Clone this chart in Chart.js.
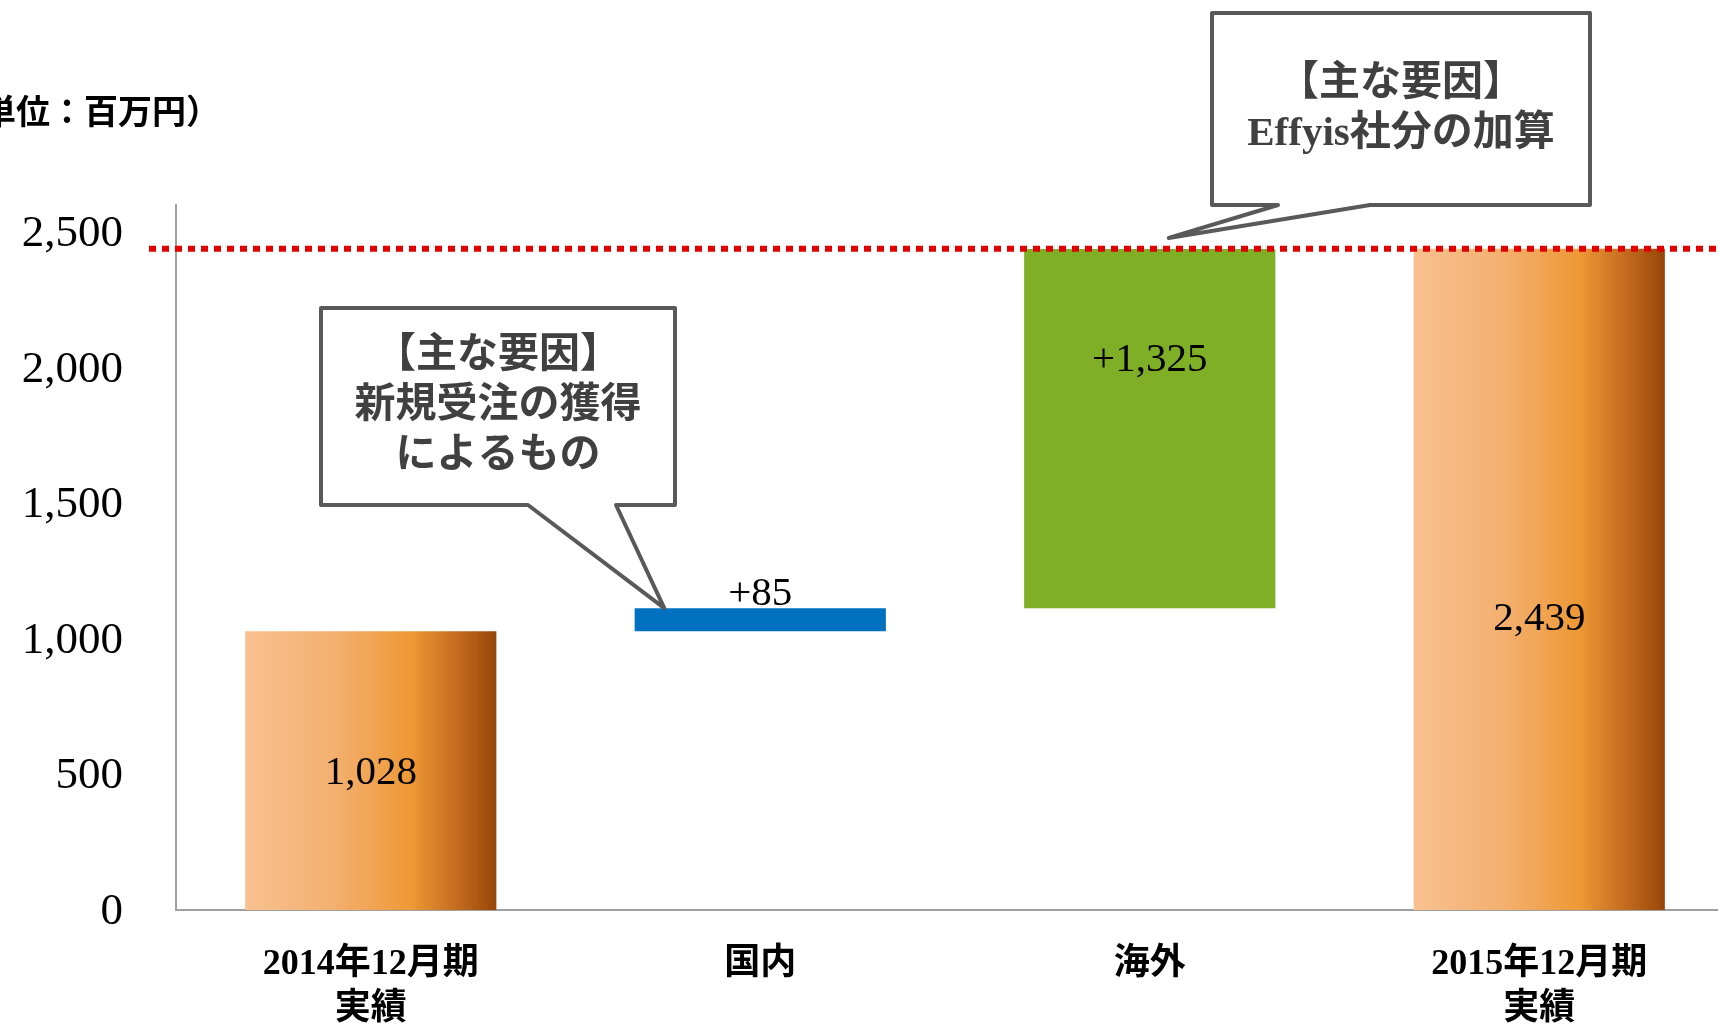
<!DOCTYPE html>
<html lang="ja">
<head>
<meta charset="utf-8">
<title>営業利益 増減要因</title>
<script src="https://cdn.jsdelivr.net/npm/chart.js@4.4.1/dist/chart.umd.min.js"></script>
<style>
  html, body { margin: 0; padding: 0; background: #fff; overflow: hidden; }
  #wrap { position: relative; width: 1734px; height: 1024px; }
</style>
</head>
<body>
<div id="wrap"><canvas id="myChart"></canvas></div>
<script>
let categories = [['2014年12月期', '実績'], '国内', '海外', ['2015年12月期', '実績']]
let amounts = [1028, 85, 1325, 2439]
let kinds = ['total', 'delta', 'delta', 'total']
let yTicks = [0, 500, 1000, 1500, 2000, 2500]
let unitLabel = '（単位：百万円）'

let serif = '"Liberation Serif", "Noto Sans CJK JP", serif'
let barShare = 0.645

// waterfall: totals start at zero, deltas float on the running sum
let running = 0
let ranges = amounts.map((v, i) => {
    if (kinds[i] === 'total') {
        running = v
        return [0, v]
    }
    let r = [running, running + v]
    running += v
    return r
})
let labelTexts = amounts.map((v, i) => (kinds[i] === 'delta' ? '+' : '') + v.toLocaleString('en-US'))
let lastTotal = amounts[amounts.length - 1]

function orangeFill(context) {
    let chart = context.chart
    let xs = chart.scales.x
    if (!chart.chartArea || !xs) return '#EE9836'
    let cx = xs.getPixelForValue(context.dataIndex)
    let w = xs.width / categories.length * barShare
    if (!Number.isFinite(cx) || !Number.isFinite(w) || w <= 0) return '#EE9836'
    let x0 = cx - w / 2
    let g = chart.ctx.createLinearGradient(x0, 0, x0 + w, 0)
    g.addColorStop(0, '#F9C190')
    g.addColorStop(0.35, '#F3B070')
    g.addColorStop(0.66, '#EE9836')
    g.addColorStop(0.84, '#C46C20')
    g.addColorStop(1, '#974508')
    return g
}

let barFill = (context) => {
    let i = context.dataIndex
    if (kinds[i] === 'total') return orangeFill(context)
    return i === 1 ? '#0070C0' : '#7FAE27'
}

let waterfallExtras = {
    id: 'waterfallExtras',
    afterDatasetsDraw(chart, args, opts) {
        let ctx = chart.ctx
        let y = chart.scales.y
        let bars = chart.getDatasetMeta(0).data

        // dotted reference line at the closing total
        let ly = y.getPixelForValue(lastTotal)
        ctx.save()
        ctx.strokeStyle = '#E00000'
        ctx.lineWidth = 6
        ctx.setLineDash([7, 6])
        ctx.beginPath()
        ctx.moveTo(149, ly)
        ctx.lineTo(chart.width, ly)
        ctx.stroke()
        ctx.restore()

        // value labels
        ctx.save()
        ctx.font = '41px ' + serif
        ctx.fillStyle = '#000'
        ctx.textAlign = 'center'
        ctx.textBaseline = 'middle'
        bars.forEach((bar, i) => {
            let top = Math.min(bar.y, bar.base)
            let h = Math.abs(bar.base - bar.y)
            let p = opts.labelPlace[i]
            let ty = p < 0 ? top + p : top + h * p
            ctx.fillText(labelTexts[i], bar.x, ty)
        })
        ctx.restore()
    },
    afterDraw(chart, args, opts) {
        let ctx = chart.ctx
        let bars = chart.getDatasetMeta(0).data

        // unit caption, runs off the left edge
        ctx.save()
        ctx.font = 'bold 34px ' + serif
        ctx.fillStyle = '#000'
        ctx.textAlign = 'right'
        ctx.textBaseline = 'middle'
        ctx.fillText(unitLabel, 220, 115)
        ctx.restore()

        // speech-bubble callouts
        opts.callouts.forEach(c => {
            let bar = bars[c.bar]
            let tx = bar.x + c.dx
            let ty = Math.min(bar.y, bar.base) + c.dy
            let [l, t, r, b] = c.box
            ctx.save()
            ctx.beginPath()
            ctx.moveTo(l, t)
            ctx.lineTo(r, t)
            ctx.lineTo(r, b)
            ctx.lineTo(c.base[1], b)
            ctx.lineTo(tx, ty)
            ctx.lineTo(c.base[0], b)
            ctx.lineTo(l, b)
            ctx.closePath()
            ctx.fillStyle = '#fff'
            ctx.fill()
            ctx.lineWidth = 4
            ctx.lineJoin = 'round'
            ctx.strokeStyle = '#595959'
            ctx.stroke()

            ctx.font = 'bold 41px ' + serif
            ctx.fillStyle = '#404040'
            ctx.textAlign = 'center'
            ctx.textBaseline = 'middle'
            let cx = (l + r) / 2
            let cy = (t + b) / 2
            let step = 50
            c.lines.forEach((line, k) => {
                ctx.fillText(line, cx, cy + (k - (c.lines.length - 1) / 2) * step)
            })
            ctx.restore()
        })
    }
}

let ctx = document.getElementById('myChart').getContext('2d')

let myChart = new Chart(ctx, {
    type: 'bar',
    data: {
        labels: categories,
        datasets: [{
            data: ranges,
            backgroundColor: barFill,
            borderWidth: 0,
            categoryPercentage: 1,
            barPercentage: barShare
        }]
    },
    plugins: [waterfallExtras],
    options: {
        responsive: true,
        maintainAspectRatio: false,
        animation: false,
        layout: {
            padding: { top: 205, left: 0, right: 0, bottom: 0 }
        },
        scales: {
            x: {
                grid: { display: false },
                border: { display: true, color: '#A0A0A0', width: 2 },
                ticks: {
                    color: '#000',
                    padding: 24,
                    maxRotation: 0,
                    font: { family: serif, size: 36, weight: 'bold', lineHeight: 1.25 }
                },
                afterFit: (scale) => { scale.height = 114 }
            },
            y: {
                min: 0,
                max: 2600,
                grid: { display: false },
                border: { display: true, color: '#A0A0A0', width: 2 },
                afterBuildTicks: (scale) => {
                    scale.ticks = yTicks.map(v => ({ value: v }))
                },
                ticks: {
                    color: '#000',
                    padding: 45,
                    labelOffset: 2,
                    font: { family: serif, size: 45 },
                    callback: (v) => v.toLocaleString('en-US')
                },
                afterFit: (scale) => { scale.width = 176 }
            }
        },
        plugins: {
            legend: { display: false },
            tooltip: { enabled: false },
            waterfallExtras: {
                labelPlace: [0.51, -14, 0.31, 0.56],
                callouts: [
                    {
                        bar: 1, dx: -96, dy: 0,
                        box: [321, 308, 675, 505], base: [528, 616],
                        lines: ['【主な要因】', '新規受注の獲得', 'によるもの']
                    },
                    {
                        bar: 2, dx: 19, dy: -11,
                        box: [1212, 13, 1590, 205], base: [1278, 1370],
                        lines: ['【主な要因】', 'Effyis社分の加算']
                    }
                ]
            }
        }
    }
})
</script>
</body>
</html>
